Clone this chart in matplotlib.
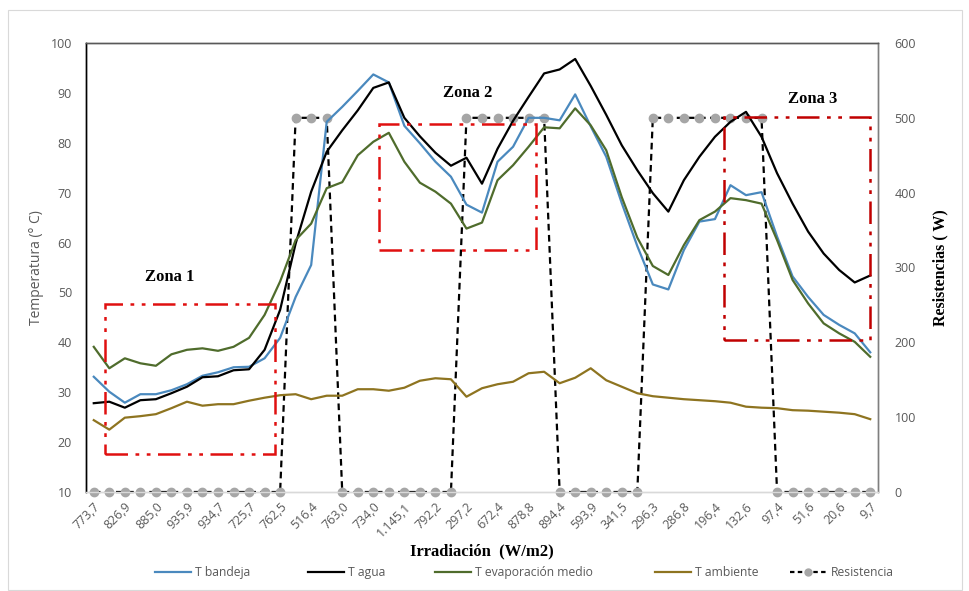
import numpy as np
import matplotlib
matplotlib.use("Agg")
import matplotlib.pyplot as plt
from matplotlib.patches import Rectangle
from matplotlib.lines import Line2D

# ---------------- data ----------------
tick_labels = ["773,7", "826,9", "885,0", "935,9", "934,7", "725,7", "762,5", "516,4",
               "763,0", "734,0", "1.145,1", "792,2", "297,2", "672,4", "878,8", "894,4",
               "593,9", "341,5", "296,3", "286,8", "196,4", "132,6", "97,4", "51,6",
               "20,6", "9,7"]

t_bandeja = [33.1, 30.1, 27.9, 29.6, 29.6, 30.4, 31.6, 33.3, 34.0, 35.0,
             35.1, 36.8, 40.9, 49.1, 55.5, 84.2, 87.2, 90.4, 93.7, 92.1,
             83.4, 79.9, 76.2, 73.2, 67.6, 66.0, 76.2, 79.2, 85.0, 85.0,
             84.5, 89.7, 83.3, 77.2, 67.9, 59.3, 51.6, 50.6, 58.5, 64.2,
             64.7, 71.5, 69.5, 70.1, 61.2, 53.2, 49.1, 45.5, 43.5, 41.8,
             38.0]

t_agua = [27.8, 28.1, 26.9, 28.4, 28.6, 29.8, 31.1, 33.0, 33.2, 34.4,
          34.6, 38.5, 46.5, 59.8, 70.2, 78.2, 82.5, 86.5, 91.0, 92.1,
          85.0, 81.3, 78.0, 75.4, 77.0, 71.8, 78.8, 84.4, 89.2, 93.9,
          94.7, 96.8, 91.4, 85.6, 79.5, 74.5, 69.9, 66.2, 72.5, 77.2,
          81.2, 84.2, 86.2, 81.2, 73.9, 67.8, 62.2, 57.8, 54.5, 52.0,
          53.4]

t_evap = [39.1, 34.8, 36.8, 35.8, 35.3, 37.6, 38.5, 38.8, 38.3, 39.1,
          40.9, 45.5, 52.2, 60.5, 63.8, 70.9, 72.1, 77.5, 80.2, 82.0,
          76.2, 72.0, 70.2, 67.8, 62.8, 64.0, 72.5, 75.5, 79.2, 83.1,
          82.9, 86.9, 83.5, 78.5, 69.1, 61.0, 55.3, 53.5, 59.5, 64.5,
          66.2, 68.9, 68.5, 67.8, 60.5, 52.5, 47.8, 43.8, 41.8, 40.1,
          37.1]

t_ambiente = [24.4, 22.5, 24.9, 25.2, 25.6, 26.8, 28.1, 27.3, 27.6, 27.6,
              28.3, 28.9, 29.4, 29.6, 28.6, 29.3, 29.3, 30.6, 30.6, 30.3,
              30.9, 32.3, 32.8, 32.6, 29.1, 30.8, 31.6, 32.1, 33.8, 34.1,
              31.8, 32.9, 34.8, 32.4, 31.1, 29.8, 29.2, 28.9, 28.6, 28.4,
              28.2, 27.9, 27.1, 26.9, 26.8, 26.4, 26.3, 26.1, 25.9, 25.6,
              24.6]

resistencia = [0] * 13 + [500] * 3 + [0] * 8 + [500] * 6 + [0] * 6 + [500] * 8 + [0] * 7

# zones (category index / temperature)
zones = {"Zona 1": (0.7, 11.65, 17.6, 47.6),
         "Zona 2": (18.37, 28.5, 58.5, 83.7),
         "Zona 3": (40.6, 50.0, 40.5, 85.1)}
zone_text_pos = {"Zona 1": (4.9, 53.0), "Zona 2": (24.1, 90.0), "Zona 3": (46.3, 88.8)}

series_names = ["T bandeja", "T agua", "T evaporación medio", "T ambiente", "Resistencia"]

# ---------------- styles ----------------
C_BLUE = "#4A89BE"
C_BLACK = "#000000"
C_GREEN = "#4F6C2C"
C_OLIVE = "#8E7420"
C_GRAY_TXT = "#595959"

x = np.arange(len(t_bandeja))

fig = plt.figure(figsize=(9.7, 5.91), dpi=100)
ax = fig.add_axes([86 / 970, 1 - 492 / 591, (878 - 86) / 970, (492 - 43) / 591])
ax2 = ax.twinx()

ax.plot(x, t_bandeja, color=C_BLUE, lw=1.6, zorder=3)
ax.plot(x, t_agua, color=C_BLACK, lw=1.6, zorder=3)
ax.plot(x, t_evap, color=C_GREEN, lw=1.6, zorder=3)
ax.plot(x, t_ambiente, color=C_OLIVE, lw=1.6, zorder=3)

ax2.plot(x, resistencia, color="black", lw=1.6, ls=(0, (3, 2)), marker="o",
         markersize=6, markerfacecolor="#A6A6A6", markeredgecolor="#A6A6A6",
         zorder=4, clip_on=False)

ax.set_xlim(-0.5, len(x) - 0.5)
ax.set_ylim(10, 100)
ax2.set_ylim(0, 600)
ax.set_yticks(np.arange(10, 101, 10))
ax2.set_yticks(np.arange(0, 601, 100))

ax.set_xticks(x[::2])
ax.set_xticklabels(tick_labels, rotation=45, ha="right", va="top",
                   rotation_mode="anchor", fontsize=9, color=C_GRAY_TXT,
                   family="Open Sans")
ax.tick_params(axis="x", length=0, pad=6)
ax.tick_params(axis="y", length=0, pad=10, labelsize=9, labelcolor=C_GRAY_TXT)
ax2.tick_params(axis="y", length=0, pad=12, labelsize=9, labelcolor=C_GRAY_TXT)
for lab in ax.get_yticklabels() + ax2.get_yticklabels():
    lab.set_family("Open Sans")

for a in (ax, ax2):
    a.spines["left"].set_color("#000000")
    a.spines["top"].set_color("#595959")
    a.spines["right"].set_color("#7F7F7F")
    a.spines["bottom"].set_color("#D9D9D9")
    for s in a.spines.values():
        s.set_linewidth(1.0)

ax.set_ylabel("Temperatura (° C)", fontsize=10, color=C_GRAY_TXT, family="Open Sans",
              labelpad=5)
ax2.set_ylabel("Resistencias ( W)", fontsize=11.5, color="black",
               family="Liberation Serif", fontweight="bold", labelpad=12)
ax.set_xlabel("Irradiación  (W/m2)", fontsize=12, color="black",
              family="Liberation Serif", fontweight="bold", labelpad=3)

# zones
for name, (x0, x1, y0, y1) in zones.items():
    col = "#C00000" if name == "Zona 3" else "#E01010"
    r = Rectangle((x0, y0), x1 - x0, y1 - y0, fill=False, edgecolor=col, lw=1.8,
                  ls=(0, (9, 3, 1.5, 3, 1.5, 3)), zorder=5)
    ax.add_patch(r)
    tx, ty = zone_text_pos[name]
    ax.text(tx, ty, name, fontsize=12, family="Liberation Serif", fontweight="bold",
            ha="center", va="center", zorder=6)

ax.set_zorder(ax2.get_zorder() + 1)
ax.patch.set_visible(False)

# legend (one entry per position, like the original)
handles = [Line2D([], [], color=C_BLUE, lw=1.6),
           Line2D([], [], color=C_BLACK, lw=1.6),
           Line2D([], [], color=C_GREEN, lw=1.6),
           Line2D([], [], color=C_OLIVE, lw=1.6),
           Line2D([], [], color="black", lw=1.6, ls=(0, (2, 1.5)), marker="o",
                  markersize=5, markerfacecolor="#A6A6A6", markeredgecolor="#A6A6A6")]
leg_x = [155, 308, 435, 655, 790]
for h, lab, lx in zip(handles, series_names, leg_x):
    lg = fig.legend([h], [lab], loc="center left", bbox_to_anchor=(lx / 970, 0.031),
                    frameon=False, handlelength=3.0, handletextpad=0.35,
                    borderpad=0, borderaxespad=0,
                    prop={"family": "Open Sans", "size": 8.7})
    for t in lg.get_texts():
        t.set_color(C_GRAY_TXT)

# outer chart border
fig.patches.append(Rectangle((8 / 970, 1 - 590 / 591), 1 - 16 / 970, (590 - 10) / 591,
                             transform=fig.transFigure, fill=False,
                             edgecolor="#D9D9D9", lw=0.8))

fig.savefig("out.png", dpi=100)
